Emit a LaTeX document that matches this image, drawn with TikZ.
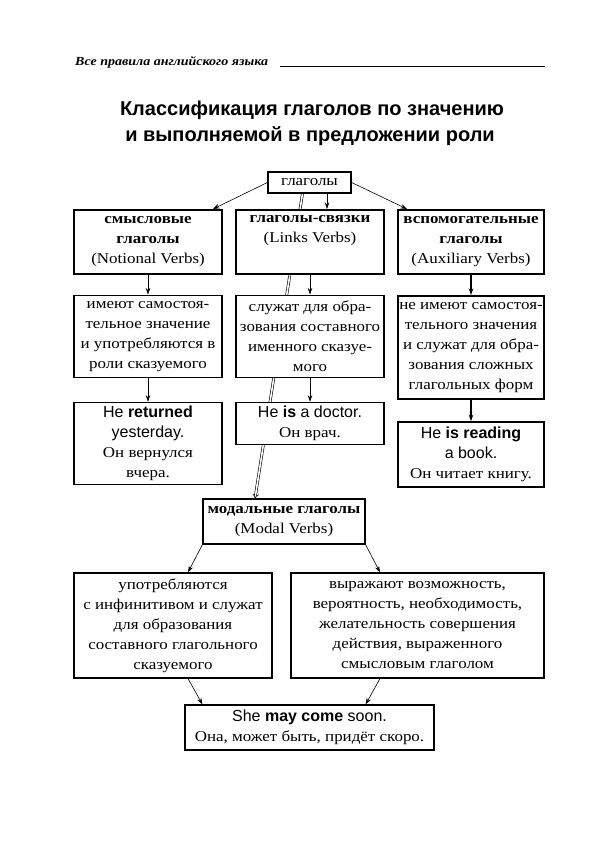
\documentclass[tikz,border=0pt]{standalone}
\usepackage{fontspec}
\setmainfont{Liberation Serif}[FakeStretch=1.13]
\setsansfont{Liberation Sans}
\usepackage{tikz}
\usetikzlibrary{positioning}
\usetikzlibrary{calc}
\usetikzlibrary{arrows.meta}
\pgfdeclarelayer{verbsbg}
\pgfsetlayers{verbsbg,main}

\begin{document}
\begin{tikzpicture}[x=1pt, y=-1pt,
		verbbox/.style={draw, line width=1.2pt, fill=white, align=center, inner sep=0pt, font=\fontsize{15}{20}\selectfont},
		thickbox/.style={verbbox, line width=2pt},
		link/.style={-{Stealth[length=6.5pt,width=4.5pt]}, line width=0.6pt},
		thicklink/.style={link, line width=1.3pt},
		modallink/.style={double, double distance=1.6pt, line width=0.6pt, -{Implies[scale=2]}}]
		\useasboundingbox (0,0) rectangle (595,842);
		% page head
		\node [anchor=base west, inner sep=0pt, font=\bfseries\itshape\fontsize{12.4}{15}\selectfont] at (75,66) (header) {Все правила английского языка};
		\coordinate (rulestart) at (280,66);
		\coordinate (ruleend) at (545,66);
		\draw [line width=0.9pt] (rulestart) -- (ruleend);
		\node [anchor=base, inner sep=0pt, font=\sffamily\bfseries\fontsize{20}{24}\selectfont] at (312,116) (title1) {Классификация глаголов по значению};
		\node [anchor=base, inner sep=0pt, font=\sffamily\bfseries\fontsize{20}{24}\selectfont] at (310,141.7) (title2) {и выполняемой в предложении роли};
		
		\node [verbbox, minimum width=83pt, minimum height=21pt] at (309.5,182.5) (verbs) {глаголы};
		\node [thickbox, minimum width=148pt, minimum height=64pt] at (148,242) (notional) {\textbf{смысловые}\\\textbf{глаголы}\\(Notional Verbs)};
		\node [thickbox, minimum width=148pt, minimum height=64pt] at (310,242) (links) {\textbf{глаголы-связки}\\(Links Verbs)\\\strut};
		\node [thickbox, minimum width=146pt, minimum height=64pt] at (471,242) (aux) {\textbf{вспомогательные}\\\textbf{глаголы}\\(Auxiliary Verbs)};
		\draw [link] (verbs.west) -- ([xshift=-10pt]notional.north east);
		\draw [link] ([xshift=17.5pt]verbs.south) -- ([xshift=17pt]links.north);
		\draw [link] (verbs.east) -- ([xshift=10pt]aux.north west);
		
		\node [verbbox, minimum width=148pt, minimum height=82pt, below=19.5pt of notional] (notionaldef) {имеют самостоя-\\тельное значение\\и употребляются в\\роли сказуемого};
		\node [verbbox, minimum width=148pt, minimum height=82pt, below=19.5pt of links] (linksdef) {служат для обра-\\зования составного\\именного сказуе-\\мого};
		\node [thickbox, minimum width=146pt, minimum height=103pt, below=20pt of aux] (auxdef) {не имеют самостоя-\\тельного значения\\и служат для обра-\\зования сложных\\глагольных форм};
		\draw [link] (notional) -- (notionaldef);
		\draw [link] (links) -- (linksdef);
		\draw [thicklink] (aux) -- (auxdef);
		
		\node [verbbox, minimum width=148pt, minimum height=82pt, below=24pt of notionaldef] (notionalex) {{\sffamily\fontsize{16}{22}\selectfont He \textbf{returned}}\\{\sffamily\fontsize{16}{22}\selectfont yesterday.}\\Он вернулся\\вчера.};
		\node [verbbox, minimum width=148pt, minimum height=42pt, below=24pt of linksdef] (linksex) {{\sffamily\fontsize{16}{22}\selectfont He \textbf{is} a doctor.}\\Он врач.};
		\node [thickbox, minimum width=146pt, minimum height=65pt, below=21.2pt of auxdef] (auxex) {{\sffamily\fontsize{16}{22}\selectfont He \textbf{is reading}}\\{\sffamily\fontsize{16}{22}\selectfont a book.}\\Он читает книгу.};
		\draw [link] (notionaldef) -- (notionalex);
		\draw [link] (linksdef) -- (linksex);
		\draw [thicklink] (auxdef) -- (auxex);
		
		\node [verbbox, minimum width=162pt, minimum height=45pt] at (284,521.5) (modal) {\textbf{модальные глаголы}\\(Modal Verbs)};
		\begin{pgfonlayer}{verbsbg}
			\draw [modallink] ([xshift=-7pt]verbs.south) -- ([xshift=-29pt]modal.north);
		\end{pgfonlayer}
		
		\node [verbbox, minimum width=198pt, minimum height=105pt] at (173,625.5) (modaluse) {употребляются\\с инфинитивом и служат\\для образования\\составного глагольного\\сказуемого};
		\node [verbbox, minimum width=253pt, minimum height=105pt] at (417.5,625.5) (modalmean) {выражают возможность,\\вероятность, необходимость,\\желательность совершения\\действия, выраженного\\смысловым глаголом};
		\draw [link] (modal.south west) -- ([xshift=15pt]modaluse.north);
		\draw [link] (modal.south east) -- ([xshift=-37.5pt]modalmean.north);
		
		\node [verbbox, minimum width=249pt, minimum height=45pt] at (309.5,727.5) (example) {{\sffamily\fontsize{16}{22}\selectfont She \textbf{may come} soon.}\\Она, может быть, придёт скоро.};
		\draw [link] ([xshift=15pt]modaluse.south) -- ([xshift=18pt]example.north west);
		\draw [link] ([xshift=-37.5pt]modalmean.south) -- ([xshift=-69pt]example.north east);
		
	\end{tikzpicture}
\end{document}
